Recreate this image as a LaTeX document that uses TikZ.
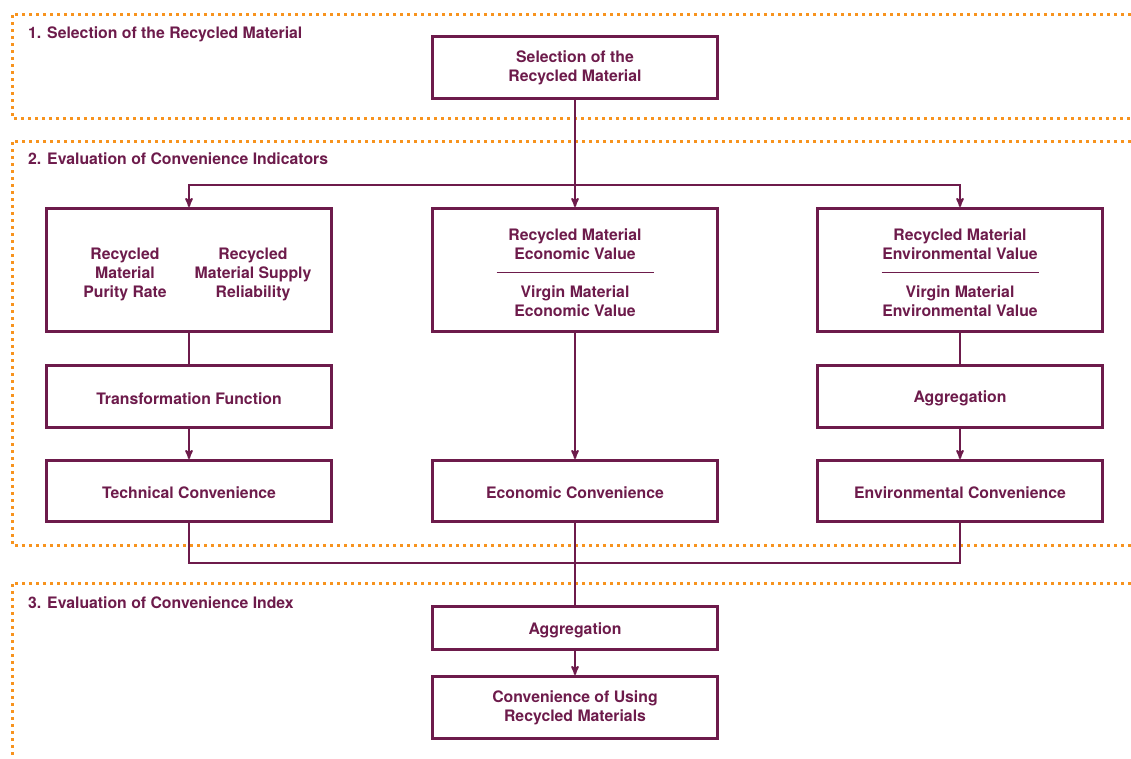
\documentclass[tikz,border=0pt]{standalone}
\usepackage{fontspec}
\setmainfont{TeX Gyre Heros}
\usetikzlibrary{positioning,arrows}
\definecolor{wine}{HTML}{6D1B4B}
\definecolor{stageorange}{HTML}{F7931E}
\tikzset{
  block/.style    = {shape=rectangle, draw=wine, line width=3pt,
                     align=center, minimum width=285pt, text=wine,
                     font=\bfseries\fontsize{15.8}{19}\selectfont,
                     execute at begin node=\rule{0pt}{1em}},
  label/.style    = {text=wine, align=center,
                     font=\bfseries\fontsize{15.8}{19}\selectfont},
  stage/.style    = {draw=stageorange, line width=3pt, dash pattern=on 3pt off 4pt},
  stagetitle/.style = {anchor=base west, text=wine, inner sep=0pt,
                     font=\bfseries\fontsize{15.8}{19}\selectfont},
  link/.style     = {draw=wine, line width=2pt}
}
\newcommand{\fracrule}{\rule[0.35em]{157pt}{0.8pt}}

\begin{document}
\begin{tikzpicture}[x=1pt, y=-1pt, >=stealth']
\useasboundingbox (0,0) rectangle (1131,758);
% stages
\draw[stage] (1131,14) -- (12,14) -- (12,118) -- (1131,118);
\draw[stage] (1131,141) -- (12,141) -- (12,545) -- (1131,545);
\draw[stage] (1131,583) -- (12,583) -- (12,758);
\node[stagetitle] (title1) at (28,38) {1. Selection of the Recycled Material};
\node[stagetitle] (title2) at (28,164) {2. Evaluation of Convenience Indicators};
\node[stagetitle] (title3) at (28,608) {3. Evaluation of Convenience Index};

% step 1
\node[block, minimum height=62pt] (sel) at (575,67.5) {Selection of the\\Recycled Material};

% step 2
\node[block, minimum height=123pt] (techin) at (189,270) {};
\node[label] (purity) at (125,274) {Recycled\\Material\\Purity Rate};
\node[label] (supply) at (253,274) {Recycled\\Material Supply\\Reliability};
\node[block, minimum height=123pt] (econin) at (575,270)
  {\rule{0pt}{1.12em}Recycled Material\\Economic Value\\\fracrule\\Virgin Material\\Economic Value};
\node[block, minimum height=123pt] (envin) at (960,270)
  {\rule{0pt}{1.12em}Recycled Material\\Environmental Value\\\fracrule\\Virgin Material\\Environmental Value};

\node[block, minimum height=62pt] (transf) at (189,396.5) {Transformation Function};
\node[block, minimum height=62pt] (aggr) at (960,396.5) {Aggregation};

\node[block, minimum height=61pt] (techconv) at (189,491) {Technical Convenience};
\node[block, minimum height=61pt] (econconv) at (575,491) {Economic Convenience};
\node[block, minimum height=61pt] (envconv) at (960,491) {Environmental Convenience};

% step 3
\node[block, minimum height=43pt] (total) at (575,628) {Aggregation};
\node[block, minimum height=62pt] (final) at (575,707.5) {Convenience of Using\\Recycled Materials};

% connectors
\coordinate (split) at (575,185);
\coordinate (join) at (575,563);
\draw[link] (sel) -- (split);
\draw[link,->] (split) -| (techin.north);
\draw[link,->] (split) -- (econin.north);
\draw[link,->] (split) -| (envin.north);
\draw[link] (techin) -- (transf);
\draw[link,->] (transf) -- (techconv);
\draw[link,->] (econin) -- (econconv);
\draw[link] (envin) -- (aggr);
\draw[link,->] (aggr) -- (envconv);
\draw[link] (techconv.south) |- (join) -| (envconv.south);
\draw[link] (econconv) -- (total);
\draw[link,->] (total) -- (final);
\end{tikzpicture}
\end{document}
